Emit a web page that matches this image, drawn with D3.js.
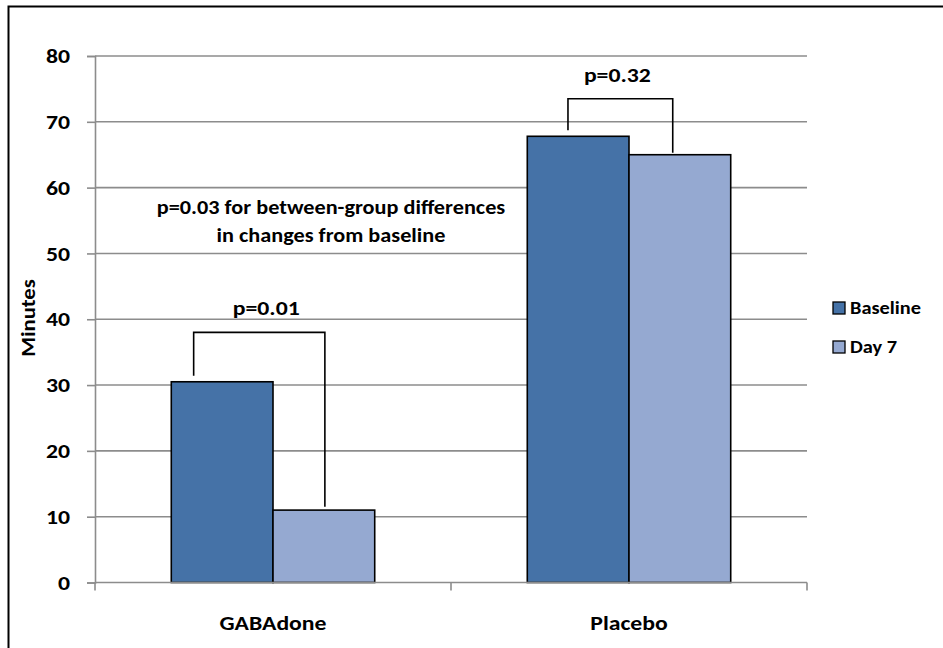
<!DOCTYPE html>
<html><head><meta charset="utf-8">
<script src="https://cdn.jsdelivr.net/npm/d3@7"></script>
<style>
html,body{margin:0;padding:0;background:#fff;overflow:hidden;}
text{font-family:Carlito,"Open Sans","Liberation Sans",sans-serif;font-weight:bold;fill:#000;}
</style></head>
<body><svg id="c" width="943" height="648"></svg>
<script>
const categories = ["GABAdone", "Placebo"];
const seriesNames = ["Baseline", "Day 7"];
const baseline = [30.5, 67.8];
const day7 = [11.0, 65.0];
const yTicks = [0, 10, 20, 30, 40, 50, 60, 70, 80];
const pLabels = ["p=0.01", "p=0.32"];
const bracketTops = [38.0, 73.5];
const bracketLeftEnds = [31.4, 68.7];
const bracketRightEnds = [11.5, 65.3];
const bracketLeftFrac = [0.22, 0.40];
const bracketRightFrac = [0.51, 0.43];
const noteLines = ["p=0.03 for between-group differences", "in changes from baseline"];
const colors = ["#4572A7", "#95A9D1"];
const K = 1.13; // horizontal text stretch

function stretch(sel, k){
  k = k || K;
  sel.each(function(){
    const t = d3.select(this);
    const x = +t.attr("x") || 0, y = +t.attr("y") || 0;
    const pre = t.attr("transform") || "";
    t.attr("x",0).attr("y",0).attr("transform",`${pre} translate(${x},${y}) scale(${k},1)`);
    t.selectAll("tspan").attr("x",0);
  });
}

const svg = d3.select("#c");
svg.append("rect").attr("x",8.5).attr("y",6.5).attr("width",940).attr("height",650)
  .attr("fill","#fff").attr("stroke","#000").attr("stroke-width",2);

const x0 = d3.scaleBand().domain(categories).range([95, 807]).paddingInner(0).paddingOuter(0);
const x1 = d3.scaleBand().domain(seriesNames).range([0, x0.bandwidth()]).paddingInner(0).paddingOuter(0.75);
const y = d3.scaleLinear().domain([0, 80]).range([582.5, 56]);

// gridlines
svg.append("g").selectAll("line").data(yTicks.filter(d=>d>0)).join("line")
  .attr("x1",95).attr("x2",807).attr("y1",d=>y(d)).attr("y2",d=>y(d))
  .attr("stroke","#8c8c8c").attr("stroke-width",1.6);

// y axis
const ya = svg.append("g").attr("transform","translate(95,0)")
  .call(d3.axisLeft(y).tickValues(yTicks).tickSize(8).tickPadding(17));
ya.select(".domain").attr("stroke","#8c8c8c").attr("stroke-width",1.6);
ya.selectAll(".tick line").attr("stroke","#8c8c8c").attr("stroke-width",1.6);
ya.selectAll(".tick text").style("font-size","21px").attr("font-family",null).call(stretch);

// bars
const data = categories.map((c,i)=>({c, vals:[baseline[i], day7[i]]}));
const g = svg.append("g");
data.forEach(d=>{
  d.vals.forEach((v,j)=>{
    g.append("rect")
      .attr("x", x0(d.c)+x1(seriesNames[j]))
      .attr("y", y(v))
      .attr("width", x1.bandwidth())
      .attr("height", y(0)-y(v))
      .attr("fill", colors[j]).attr("stroke","#000").attr("stroke-width",1.6);
  });
});

// x axis
const xa = svg.append("g").attr("transform",`translate(0,${y(0)})`)
  .call(d3.axisBottom(x0).tickSize(0).tickPadding(33));
xa.select(".domain").attr("stroke","#8c8c8c").attr("stroke-width",1.6).attr("d","M95,0H807");
xa.selectAll(".tick text").style("font-size","21px").attr("font-family",null).call(stretch);
[95, 451, 807].forEach(xx=>{
  svg.append("line").attr("x1",xx).attr("x2",xx).attr("y1",y(0)).attr("y2",y(0)+8)
    .attr("stroke","#8c8c8c").attr("stroke-width",1.6);
});

// brackets
categories.forEach((c,i)=>{
  const xl = x0(c)+x1(seriesNames[0])+x1.bandwidth()*bracketLeftFrac[i];
  const xr = x0(c)+x1(seriesNames[1])+x1.bandwidth()*bracketRightFrac[i];
  const top = y(bracketTops[i]);
  svg.append("path")
    .attr("d",`M${xl},${y(bracketLeftEnds[i])}V${top}H${xr}V${y(bracketRightEnds[i])}`)
    .attr("fill","none").attr("stroke","#000").attr("stroke-width",1.6);
  const shift = i === 0 ? 7 : -3;
  svg.append("text").attr("x",(xl+xr)/2+shift).attr("y",top-17).attr("text-anchor","middle")
    .style("font-size","21px").text(pLabels[i]).call(stretch);
});

// note
svg.append("text").attr("x",331).attr("y",214).attr("text-anchor","middle")
  .style("font-size","21px").call(s=>s.selectAll("tspan").data(noteLines).join("tspan")
  .attr("x",0).attr("dy",(d,i)=>i?28:0).text(d=>d)).call(stretch, 1.06);

// y title
svg.append("text").attr("transform","translate(35,318) rotate(-90)").attr("text-anchor","middle")
  .style("font-size","20px").text("Minutes").call(stretch);

// legend
seriesNames.forEach((s,i)=>{
  const ly = 308 + i*39;
  svg.append("rect").attr("x",833).attr("y",ly-6).attr("width",12).attr("height",12)
    .attr("fill",colors[i]).attr("stroke","#000").attr("stroke-width",1.3);
  svg.append("text").attr("x",850).attr("y",ly).attr("dy","0.35em")
    .style("font-size","18px").text(s).call(stretch);
});
</script></body></html>
